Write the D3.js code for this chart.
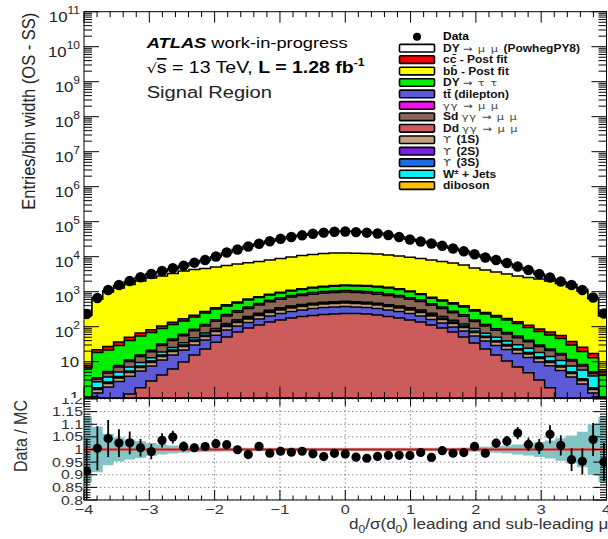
<!DOCTYPE html>
<html>
<head>
<meta charset="utf-8">
<script src="https://cdn.jsdelivr.net/npm/d3@7"></script>
<style>
  body { margin: 0; background: #fff; }
  svg { display: block; font-family: "Liberation Sans", Arial, Helvetica, sans-serif; }
</style>
</head>
<body>
<script>
var width = 608, height = 539;

// d0/sigma(d0) binning: 49 bins, width 0.165
var binLow = -4.0425, binWidth = 0.165, nBins = 49;

var dataCounts = [231, 661, 1119, 1554, 2022, 2579, 3205, 3902, 4666, 5534, 6741, 8048, 10130, 13180, 16060, 19550, 23380, 27540, 32460, 36550, 40840, 45120, 48840, 51790, 52480,
  50500, 48530, 46030, 41690, 36550, 30990, 27180, 23830, 20480, 17150, 14260, 11710, 9480, 8048, 6607, 5250, 4170, 3205, 2545, 1955, 1554, 1119, 683, 238];

var dymumu = [36, 36, 87, 232, 353, 527, 755, 940, 1118, 1543, 2363, 3324, 4793, 7295, 9859, 13215, 15768, 19868, 23756, 27104, 30250, 34278, 37841, 39751, 40560,
  39550, 37885, 35353, 31466, 26923, 22090, 18664, 16500, 13226, 10767, 8622, 6791, 5430, 4176, 3173, 2104, 1528, 847, 367, 199, 249, 121, 23, 47];
var ccbar = [1.2, 3.6, 5.7, 7.5, 9.4, 12, 14, 16, 19, 23, 25, 26, 29, 31, 34, 37, 40, 43, 48, 53, 58, 62, 66, 68, 68,
  66, 65, 63, 59, 56, 52, 48, 44, 41, 37, 32, 27, 24, 21, 18, 16, 15, 13, 12, 10, 8, 6.2, 4.2, 1.2];
var bbbar = [209, 600, 958, 1247, 1567, 1968, 2394, 2721, 3195, 3756, 4117, 4357, 4760, 5218, 5708, 6118, 6612, 7243, 7967, 8753, 9664, 10284, 10978, 11334, 11304,
  10996, 10884, 10550, 9872, 9276, 8597, 7965, 7409, 6770, 6162, 5416, 4472, 3939, 3466, 3050, 2687, 2450, 2234, 1964, 1669, 1332, 1027, 617, 198];
var dytautau = [5.7, 14.9, 16.4, 21.2, 29.2, 38.7, 47.3, 56.9, 70.7, 84.2, 105, 131, 162, 168, 189, 213, 224, 232, 246, 259, 294, 332, 352, 385, 400,
  420, 430, 430, 420, 380, 320, 250, 200, 175, 165, 150, 125, 116, 102, 86, 69, 54, 43, 35, 29, 18.5, 11.3, 7.8, 3.3];
var gammagamma = [0.05, 0.32, 0.49, 0.73, 1.05, 1.46, 1.98, 3.0, 4.2, 5.8, 7.9, 10.9, 14.9, 21, 27, 34.5, 43, 54, 63, 74, 81, 89, 95, 98, 102,
  98, 95, 89, 81, 74, 64, 55, 43, 34.5, 26, 20.6, 14.7, 10.8, 8.2, 6.5, 5.1, 3.8, 2.8, 2.2, 1.6, 1.08, 0.79, 0.47, 0.05];
var sdGamma = [0.1, 0.47, 1.1, 1.97, 3.07, 4.57, 6.2, 10.1, 15, 20.5, 28.1, 38.5, 52.8, 78.5, 101, 136, 170, 222, 261, 319, 349, 382, 409, 423, 437,
  423, 409, 382, 347, 319, 262, 225, 168, 136, 98, 77, 52, 38.5, 29.3, 22.9, 18, 12.8, 8.9, 6.8, 4.7, 2.9, 1.75, 0.69, 0.1];
var ddGamma = [0, 0, 0, 0, 1.2, 1.8, 2.8, 4.2, 6.2, 9.8, 15.5, 23, 36, 51, 71, 92, 112, 136, 155, 177, 196, 209, 223, 231, 238,
  238, 231, 216, 196, 177, 155, 136, 112, 92, 71, 51, 34, 23, 15.5, 10.5, 7.1, 4.8, 3.0, 1.8, 0, 0, 0, 0, 0];
var ttbar = [0.3, 1.28, 1.89, 2.72, 2.67, 3.65, 4.73, 7.0, 9.3, 11.8, 14.5, 18.6, 21.4, 29.7, 34.1, 39.8, 54, 66, 83, 95, 104, 122, 131, 135, 140,
  128, 123, 115, 104, 95, 83, 66, 49, 35.6, 27.4, 24.6, 20, 15.9, 13.5, 11.8, 10.0, 8.45, 6.8, 5.8, 5.6, 3.66, 2.31, 1.28, 0.3];
var ups1s = [0.08, 0.33, 0.49, 0.71, 1.01, 1.41, 1.96, 2.9, 4.0, 5.6, 7.8, 10.8, 15.1, 20.9, 27.2, 34.3, 43, 52, 62, 71, 78, 86, 92, 95, 98,
  95, 92, 86, 78, 71, 62, 52, 42, 33, 25.5, 19.6, 14.1, 10.1, 7.5, 5.8, 4.4, 3.4, 2.5, 1.96, 1.46, 0.95, 0.6, 0.33, 0.08];
var ups2s = [0.015, 0.057, 0.085, 0.12, 0.18, 0.24, 0.34, 0.5, 0.7, 0.97, 1.35, 1.88, 2.6, 3.6, 4.7, 5.9, 7.5, 9.1, 10.7, 12.2, 13.5, 14.9, 15.9, 16.5, 17,
  16.5, 15.9, 14.9, 13.5, 12.2, 10.7, 9.1, 7.2, 5.7, 4.4, 3.4, 2.4, 1.76, 1.3, 1.0, 0.77, 0.59, 0.44, 0.34, 0.25, 0.16, 0.1, 0.057, 0.015];
var ups3s = [0.012, 0.045, 0.066, 0.095, 0.14, 0.19, 0.26, 0.39, 0.54, 0.76, 1.05, 1.46, 2.0, 2.8, 3.7, 4.6, 5.8, 7.1, 8.3, 9.5, 10.5, 11.6, 12.4, 12.8, 13.2,
  12.8, 12.4, 11.6, 10.5, 9.5, 8.3, 7.1, 5.6, 4.5, 3.4, 2.6, 1.9, 1.37, 1.0, 0.78, 0.6, 0.46, 0.34, 0.26, 0.2, 0.13, 0.08, 0.045, 0.012];
var wjets = [0.3, 0.86, 1.02, 1.3, 1.63, 1.94, 2.45, 3.4, 4.2, 5.1, 6.5, 8.1, 10.1, 11.6, 12.9, 13.7, 15.6, 17, 17.8, 17.7, 16.6, 15.4, 16.4, 16.9, 17.5,
  16.9, 16.4, 15.3, 13.9, 17.7, 20, 21, 19.8, 19.6, 18, 16.3, 14, 11.8, 9.8, 8.3, 7.1, 5.8, 4.7, 3.6, 3.0, 2.45, 2.6, 2.1, 0.3];
var diboson = [0.03, 0.1, 0.12, 0.15, 0.2, 0.26, 0.35, 0.5, 0.68, 0.92, 1.25, 1.7, 2.3, 3.1, 4.0, 5.0, 6.2, 7.4, 8.6, 9.7, 10.6, 11.5, 12.2, 12.6, 12.9,
  12.6, 12.2, 11.5, 10.6, 9.7, 8.6, 7.4, 6.0, 4.8, 3.8, 2.9, 2.2, 1.6, 1.2, 0.95, 0.75, 0.6, 0.46, 0.37, 0.28, 0.2, 0.15, 0.1, 0.03];

// ratio panel: data stat. error and MC stat. band (relative)
var ratioErr = [0.13, 0.087, 0.073, 0.055, 0.045, 0.035, 0.03, 0.028, 0.025, 0.02, 0.017, 0.015, 0.013, 0.012,
  0.01, 0.01, 0.01, 0.01, 0.01, 0.01, 0.01, 0.01, 0.01, 0.01, 0.01, 0.01, 0.01, 0.01, 0.01, 0.01, 0.01, 0.01, 0.01, 0.01, 0.01,
  0.012, 0.014, 0.016, 0.018, 0.02, 0.024, 0.026, 0.03, 0.036, 0.04, 0.045, 0.052, 0.065, 0.075];
var mcErr = [0.13, 0.09, 0.062, 0.048, 0.04, 0.034, 0.026, 0.02, 0.016, 0.013, 0.011, 0.01, 0.009, 0.008,
  0.007, 0.007, 0.007, 0.007, 0.007, 0.007, 0.007, 0.007, 0.007, 0.007, 0.007, 0.007, 0.007, 0.007, 0.007, 0.007, 0.007, 0.007, 0.007, 0.007, 0.007,
  0.008, 0.009, 0.011, 0.013, 0.016, 0.02, 0.024, 0.03, 0.036, 0.045, 0.055, 0.07, 0.1, 0.13];

var xTickValues = [-4, -3, -2, -1, 0, 1, 2, 3, 4];
var yExponents = [0, 1, 2, 3, 4, 5, 6, 7, 8, 9, 10, 11];
var ratioTickValues = [0.8, 0.85, 0.9, 0.95, 1, 1.05, 1.1, 1.15, 1.2];

var samples = {
  dd:   { vals: ddGamma,   color: "#cc5c5c", label: [["Dd ", "b"], ["\u03b3\u03b3 \u2192 \u03bc \u03bc", "g"]] },
  tt:   { vals: ttbar,     color: "#5b5bd8", label: [["tt\u0304 (dilepton)", "b"]] },
  ups1: { vals: ups1s,     color: "#c8a07e", label: [["\u03d2 ", "g"], ["(1S)", "b"]] },
  ups2: { vals: ups2s,     color: "#7b1fe0", label: [["\u03d2 ", "g"], ["(2S)", "b"]] },
  ups3: { vals: ups3s,     color: "#1f6be4", label: [["\u03d2 ", "g"], ["(3S)", "b"]] },
  dib:  { vals: diboson,   color: "#ffc200", label: [["diboson", "b"]] },
  wj:   { vals: wjets,     color: "#00f4f4", label: [["W", "b"], ["\u00b1", "sup"], [" + Jets", "b"]] },
  sd:   { vals: sdGamma,   color: "#8b6556", label: [["Sd ", "b"], ["\u03b3\u03b3 \u2192 \u03bc \u03bc", "g"]] },
  gg:   { vals: gammagamma,color: "#f010f0", label: [["\u03b3\u03b3 \u2192 \u03bc \u03bc", "g"]] },
  tau:  { vals: dytautau,  color: "#00f000", label: [["DY ", "b"], ["\u2192 \u03c4 \u03c4", "g"]] },
  cc:   { vals: ccbar,     color: "#ff0000", label: [["cc\u0304 - Post fit", "b"]] },
  bb:   { vals: bbbar,     color: "#ffff00", label: [["bb\u0304 - Post fit", "b"]] },
  dy:   { vals: dymumu,    color: "#ffffff", label: [["DY ", "b"], ["\u2192 \u03bc \u03bc ", "g"], ["(PowhegPY8)", "b"]] }
};
var stackOrder = ["dd", "tt", "ups1", "ups2", "ups3", "dib", "wj", "sd", "gg", "tau", "cc", "bb", "dy"];
var legendOrder = ["dy", "cc", "bb", "tau", "tt", "gg", "sd", "dd", "ups1", "ups2", "ups3", "wj", "dib"];

var edges = d3.range(nBins + 1).map(function(i) { return binLow + i * binWidth; });
var centers = d3.range(nBins).map(function(i) { return binLow + (i + 0.5) * binWidth; });

var rows = centers.map(function(c, i) {
  var r = {};
  stackOrder.forEach(function(k) { r[k] = samples[k].vals[i]; });
  return r;
});
var series = d3.stack().keys(stackOrder)(rows);
var mcTotal = rows.map(function(r) { return d3.sum(stackOrder, function(k) { return r[k]; }); });
var ratio = dataCounts.map(function(d, i) { return d / mcTotal[i]; });

// geometry
var frameL = 84, frameR = 606.5, upTop = 11.7, split = 398, lowBot = 500;

var x = d3.scaleLinear().domain([-4, 4]).range([frameL, frameR]);
var y = d3.scaleLog().domain([1, 1e11]).range([396.7, upTop]);
var yr = d3.scaleLinear().domain([0.8, 1.2]).range([lowBot, 399]);

var svg = d3.select("body").append("svg")
    .attr("width", width)
    .attr("height", height);

svg.append("rect").attr("width", width).attr("height", height).attr("fill", "#fff");

var defs = svg.append("defs");
function clip(id, x0, y0, w, h) {
  defs.append("clipPath").attr("id", id).append("rect")
    .attr("x", x0).attr("y", y0).attr("width", w).attr("height", h);
}
clip("padUp", 0, 0, width, split);
clip("padLo", 0, split, width, height - split);
clip("plotUp", frameL, upTop, frameR - frameL, split - upTop);
clip("plotLo", frameL, split, frameR - frameL, lowBot - split);

function stretchText(parent, tx, ty, sx, rot) {
  return parent.append("g")
    .attr("transform", "translate(" + tx + "," + ty + ") scale(" + sx + ",1)" + (rot ? " rotate(" + rot + ")" : ""))
    .append("text");
}

function stepPoints(vals) {
  var pts = vals.map(function(v, i) { return { x: edges[i], v: v }; });
  pts.push({ x: edges[nBins], v: vals[nBins - 1] });
  return pts;
}

// ---------------- upper pad ----------------
var up = svg.append("g").attr("clip-path", "url(#padUp)");
var hist = up.append("g").attr("clip-path", "url(#plotUp)");

var area = d3.area()
    .curve(d3.curveStepAfter)
    .x(function(d) { return x(d.x); })
    .y0(y(0.05))
    .y1(function(d) { return y(Math.max(d.v, 0.05)); });

// THStack style: cumulative histograms, drawn top-down
series.slice().reverse().forEach(function(s) {
  hist.append("path")
      .datum(stepPoints(s.map(function(d) { return d[1]; })))
      .attr("d", area)
      .attr("fill", samples[s.key].color)
      .attr("stroke", "#000")
      .attr("stroke-width", 1.5)
      .attr("stroke-linejoin", "miter");
});

hist.selectAll("circle.data")
    .data(dataCounts)
  .enter().append("circle")
    .attr("class", "data")
    .attr("cx", function(d, i) { return x(centers[i]); })
    .attr("cy", function(d) { return y(d); })
    .attr("r", 5.2)
    .attr("fill", "#000");

up.append("rect")
    .attr("x", frameL).attr("y", upTop)
    .attr("width", frameR - frameL).attr("height", 397.7 - upTop)
    .attr("fill", "none").attr("stroke", "#000").attr("stroke-width", 1);

var ticks = up.append("g").attr("stroke", "#000").attr("stroke-width", 1);
var xMinor = d3.range(-40, 41, 2).map(function(v) { return v / 10; });
xMinor.forEach(function(v) {
  var major = Math.abs(v - Math.round(v)) < 1e-6;
  var len = major ? 11 : 5.5;
  ticks.append("line").attr("x1", x(v)).attr("x2", x(v)).attr("y1", upTop).attr("y2", upTop + len);
  ticks.append("line").attr("x1", x(v)).attr("x2", x(v)).attr("y1", 397.7).attr("y2", 397.7 - len);
});
yExponents.forEach(function(e) {
  d3.range(1, 10).forEach(function(m) {
    var v = m * Math.pow(10, e);
    if (v > 1e11) return;
    var len = m === 1 ? 15 : 8;
    ticks.append("line").attr("x1", frameL).attr("x2", frameL + len).attr("y1", y(v)).attr("y2", y(v));
    ticks.append("line").attr("x1", frameR).attr("x2", frameR - len).attr("y1", y(v)).attr("y2", y(v));
  });
});

yExponents.forEach(function(e) {
  var t;
  if (e < 2) {
    t = stretchText(up, 79, y(Math.pow(10, e)) + 5, 1.2)
      .attr("text-anchor", "end").attr("font-size", 14).attr("fill", "#222")
      .text(e === 0 ? "1" : "10");
  } else {
    t = stretchText(up, 80, y(Math.pow(10, e)) + 10, 1.2)
      .attr("text-anchor", "end").attr("font-size", 14).attr("fill", "#222");
    t.append("tspan").text("10");
    t.append("tspan").attr("font-size", 10).attr("dy", -8).text(e);
  }
});

stretchText(up, 35, upTop + 1, 1.15, -90)
    .attr("text-anchor", "end").attr("font-size", 16.5).attr("fill", "#222")
    .text("Entries/bin width (OS - SS)");

// ATLAS label
var l1 = stretchText(up, 146.7, 48.3, 1.22).attr("font-size", 15).attr("fill", "#000");
l1.append("tspan").attr("font-weight", "bold").attr("font-style", "italic").text("ATLAS");
l1.append("tspan").text(" work-in-progress");
var l2 = stretchText(up, 146.7, 73.3, 1.22).attr("font-size", 16).attr("fill", "#000");
l2.append("tspan").attr("font-family", "DejaVu Sans").attr("font-size", 13).text("\u221a");
l2.append("tspan").style("text-decoration", "overline").text("s");
l2.append("tspan").text(" = 13 TeV, ");
l2.append("tspan").attr("font-weight", "bold").text("L = 1.28 fb");
l2.append("tspan").attr("font-weight", "bold").attr("font-size", 10).attr("dy", -7).text("-1");
stretchText(up, 146.7, 98.3, 1.22).attr("font-size", 16.5).attr("fill", "#222").text("Signal Region");

// legend
var legY0 = 36.7, legDy = 11.45;
var leg = up.append("g");
leg.append("circle").attr("cx", 417).attr("cy", legY0).attr("r", 4).attr("fill", "#000");
stretchText(leg, 443, legY0 + 3.6, 1.2).attr("font-size", 10).attr("font-weight", "bold").text("Data");
legendOrder.forEach(function(k, i) {
  var cy = legY0 + (i + 1) * legDy;
  leg.append("rect")
      .attr("x", 399.5).attr("y", cy - 3.8).attr("width", 35).attr("height", 7.6)
      .attr("rx", 1)
      .attr("fill", samples[k].color).attr("stroke", "#000").attr("stroke-width", 1.6);
  var t = stretchText(leg, 443, cy + 3.6, 1.2).attr("font-size", 10).attr("fill", "#111");
  var lifted = false;
  samples[k].label.forEach(function(seg) {
    var sp = t.append("tspan").text(seg[0]);
    if (seg[1] === "b") sp.attr("font-weight", "bold");
    if (seg[1] === "g") sp.attr("fill", "#444").attr("font-family", "DejaVu Sans").attr("font-size", 9.5).attr("letter-spacing", 0.8);
    if (seg[1] === "sup") { sp.attr("font-size", 6.5).attr("dy", -4).attr("font-weight", "bold"); lifted = true; }
    else if (lifted) { sp.attr("dy", 4); lifted = false; }
  });
});

// ---------------- ratio pad ----------------
var lo = svg.append("g").attr("clip-path", "url(#padLo)");
var inner = lo.append("g").attr("clip-path", "url(#plotLo)");

var grid = inner.append("g")
    .attr("stroke", "#888").attr("stroke-width", 1).attr("stroke-dasharray", "1.5,2.5");
ratioTickValues.forEach(function(v) {
  grid.append("line").attr("x1", frameL).attr("x2", frameR).attr("y1", yr(v)).attr("y2", yr(v));
});
xTickValues.forEach(function(v) {
  grid.append("line").attr("x1", x(v)).attr("x2", x(v)).attr("y1", split).attr("y2", lowBot);
});

var band = d3.area()
    .curve(d3.curveStepAfter)
    .x(function(d) { return x(d.x); })
    .y0(function(d) { return yr(1 - d.v); })
    .y1(function(d) { return yr(1 + d.v); });
inner.append("path")
    .datum(stepPoints(mcErr))
    .attr("d", band)
    .attr("fill", "#74bfbf")
    .attr("fill-opacity", 0.9);

inner.append("line")
    .attr("x1", frameL).attr("x2", frameR).attr("y1", yr(1)).attr("y2", yr(1))
    .attr("stroke", "#ff0000").attr("stroke-width", 2.2);

inner.selectAll("line.err")
    .data(ratio)
  .enter().append("line")
    .attr("class", "err")
    .attr("x1", function(d, i) { return x(centers[i]); })
    .attr("x2", function(d, i) { return x(centers[i]); })
    .attr("y1", function(d, i) { return yr(d - ratioErr[i]); })
    .attr("y2", function(d, i) { return yr(d + ratioErr[i]); })
    .attr("stroke", "#000").attr("stroke-width", 1.8);

inner.selectAll("circle.rp")
    .data(ratio)
  .enter().append("circle")
    .attr("class", "rp")
    .attr("cx", function(d, i) { return x(centers[i]); })
    .attr("cy", function(d) { return yr(d); })
    .attr("r", 4.6)
    .attr("fill", "#000");

lo.append("rect")
    .attr("x", frameL).attr("y", split + 0.5)
    .attr("width", frameR - frameL).attr("height", lowBot - split - 0.5)
    .attr("fill", "none").attr("stroke", "#000").attr("stroke-width", 1);

var rt = lo.append("g").attr("stroke", "#000").attr("stroke-width", 1);
xMinor.forEach(function(v) {
  var major = Math.abs(v - Math.round(v)) < 1e-6;
  rt.append("line").attr("x1", x(v)).attr("x2", x(v)).attr("y1", lowBot).attr("y2", lowBot - (major ? 10 : 4.5));
  rt.append("line").attr("x1", x(v)).attr("x2", x(v)).attr("y1", split).attr("y2", split + (major ? 8 : 4));
});
d3.range(80, 121, 1).forEach(function(p) {
  var v = p / 100;
  var len = p % 5 === 0 ? 13 : 6.5;
  rt.append("line").attr("x1", frameL).attr("x2", frameL + len).attr("y1", yr(v)).attr("y2", yr(v));
  rt.append("line").attr("x1", frameR).attr("x2", frameR - len).attr("y1", yr(v)).attr("y2", yr(v));
});

ratioTickValues.forEach(function(v) {
  stretchText(lo, 83, yr(v) + 4.6, 1.22)
      .attr("text-anchor", "end").attr("font-size", 13).attr("fill", "#333")
      .text(d3.format("~g")(v));
});
xTickValues.forEach(function(v) {
  stretchText(lo, x(v), 513.5, 1.25)
      .attr("text-anchor", "middle").attr("font-size", 13).attr("fill", "#333")
      .text(v < 0 ? "\u2212" + Math.abs(v) : String(v));
});

stretchText(lo, 27, 436, 1.15, -90)
    .attr("text-anchor", "middle").attr("font-size", 16).attr("fill", "#333")
    .text("Data / MC");

var xt = stretchText(lo, 349, 528.5, 1.1).attr("font-size", 15.5).attr("fill", "#333");
xt.append("tspan").text("d");
xt.append("tspan").attr("font-size", 11).attr("dy", 4).text("0");
xt.append("tspan").attr("dy", -4).text("/\u03c3(d");
xt.append("tspan").attr("font-size", 11).attr("dy", 4).text("0");
xt.append("tspan").attr("dy", -4).text(") leading and sub-leading \u03bc");
</script>
</body>
</html>
